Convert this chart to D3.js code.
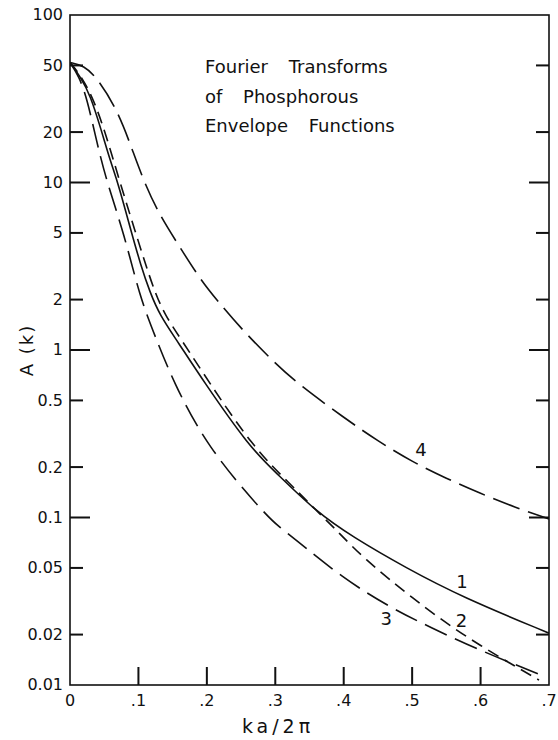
<!DOCTYPE html>
<html>
<head>
<meta charset="utf-8">
<script src="https://cdn.jsdelivr.net/npm/d3@7"></script>
<style>
  body { margin: 0; background: #fff; }
  svg text { font-family: "DejaVu Sans", sans-serif; fill: #111; }
  .line-path { fill: none; stroke: #111; stroke-width: 1.6; }
</style>
</head>
<body>
<div id="chart"></div>
<script>
// Curve 1 (solid)
const curve1K = [0, 0.015, 0.03, 0.045, 0.06, 0.07, 0.09, 0.1035, 0.1167, 0.131, 0.1575, 0.194, 0.262, 0.30, 0.36, 0.413, 0.491, 0.573, 0.7];
const curve1A = [52, 43, 33, 21, 13, 10, 5.0, 3.2, 2.22, 1.62, 1.12, 0.66, 0.264, 0.187, 0.108, 0.0766, 0.050, 0.0335, 0.0204];
// Curve 2 (short dash)
const curve2K = [0, 0.015, 0.032, 0.05, 0.073, 0.096, 0.1108, 0.124, 0.1385, 0.1648, 0.2013, 0.267, 0.3208, 0.36, 0.3938, 0.427, 0.5, 0.579, 0.6854];
const curve2A = [52, 44, 33, 21, 10, 5, 3.21, 2.22, 1.62, 1.12, 0.66, 0.264, 0.16, 0.11, 0.0807, 0.058, 0.033, 0.0191, 0.0107];
// Curve 3 (long dash)
const curve3K = [0, 0.0131, 0.0248, 0.0394, 0.054, 0.0788, 0.102, 0.1254, 0.150, 0.2, 0.2858, 0.306, 0.325, 0.398, 0.467, 0.525, 0.608, 0.688];
const curve3A = [52, 43, 31.9, 17.2, 10, 5, 2.07, 1.18, 0.66, 0.264, 0.1035, 0.0877, 0.0766, 0.0436, 0.0292, 0.0222, 0.0155, 0.0115];
// Curve 4 (long dash)
const curve4K = [0, 0.02, 0.04, 0.067, 0.086, 0.107, 0.13, 0.156, 0.19, 0.214, 0.25, 0.30, 0.335, 0.40, 0.45, 0.50, 0.55, 0.60, 0.65, 0.70];
const curve4A = [52, 50, 42, 28, 18, 10.3, 6.5, 4.4, 2.65, 2.0, 1.34, 0.83, 0.62, 0.395, 0.286, 0.215, 0.171, 0.139, 0.115, 0.098];

const curveLabels = ["1", "2", "3", "4"];
const curveLabelK = [0.573, 0.572, 0.462, 0.513];
const curveLabelA = [0.0412, 0.0244, 0.0251, 0.253];

const yTicks = [100, 50, 20, 10, 5, 2, 1, 0.5, 0.2, 0.1, 0.05, 0.02, 0.01];
const yTickLabels = ["100", "50", "20", "10", "5", "2", "1", "0.5", "0.2", "0.1", "0.05", "0.02", "0.01"];
const xTicks = [0, 0.1, 0.2, 0.3, 0.4, 0.5, 0.6, 0.7];
const xTickLabels = ["0", ".1", ".2", ".3", ".4", ".5", ".6", ".7"];
const titleLines = ["Fourier Transforms", "of Phosphorous", "Envelope Functions"];

const width = 558, height = 740
, margin = {top: 15, right: 9, bottom: 55, left: 70}
, innerWidth = width - margin.left - margin.right
, innerHeight = height - margin.top - margin.bottom
, majorTick = 20
, minorTick = 13
, xTickLen = 18
, tickW = 2;

const svg = d3.select("#chart").append("svg")
  .attr("width", width)
  .attr("height", height);

const g = svg.append("g")
  .attr("transform", `translate(${margin.left},${margin.top})`);

const xScale = d3.scaleLinear().domain([0, 0.7]).range([0, innerWidth]);
const yScale = d3.scaleLog().domain([0.01, 100]).range([innerHeight, 0]);
const isDecade = d => d === 10 || d === 1 || d === 0.1;
const tickLen = d => isDecade(d) ? majorTick : minorTick;

// Y ticks: one group per value, label left of the frame, marks inward on both sides
const yTickG = g.selectAll(".ytick")
  .data(yTicks)
  .join("g")
  .attr("class", "ytick")
  .attr("transform", d => `translate(0,${yScale(d)})`);

yTickG.append("text")
  .attr("x", -7)
  .attr("dy", "0.34em")
  .attr("text-anchor", "end")
  .style("font-size", "16px")
  .text((d, i) => yTickLabels[i]);

const yMarks = yTickG.filter(d => d !== 100 && d !== 0.01);
yMarks.append("rect")
  .attr("x", 0)
  .attr("y", -tickW / 2)
  .attr("width", d => tickLen(d))
  .attr("height", tickW)
  .attr("fill", "#111");
yMarks.append("rect")
  .attr("x", d => innerWidth - tickLen(d))
  .attr("y", -tickW / 2)
  .attr("width", d => tickLen(d))
  .attr("height", tickW)
  .attr("fill", "#111");

// X ticks
const xTickG = g.selectAll(".xtick")
  .data(xTicks)
  .join("g")
  .attr("class", "xtick")
  .attr("transform", d => `translate(${xScale(d)},${innerHeight})`);

xTickG.append("text")
  .attr("y", 21)
  .attr("text-anchor", "middle")
  .style("font-size", "16px")
  .text((d, i) => xTickLabels[i]);

xTickG.filter(d => d !== 0 && d !== 0.7)
  .append("rect")
  .attr("x", -tickW / 2)
  .attr("y", -xTickLen)
  .attr("width", tickW)
  .attr("height", xTickLen)
  .attr("fill", "#111");

// Frame
g.append("rect")
  .attr("width", innerWidth)
  .attr("height", innerHeight)
  .attr("fill", "none")
  .attr("stroke", "#111")
  .attr("stroke-width", 1.6);

// Curves
g.append("clipPath").attr("id", "plot-clip")
  .append("rect").attr("width", innerWidth).attr("height", innerHeight);

const lineGen = d3.line()
  .x(d => xScale(d[0]))
  .y(d => yScale(d[1]))
  .curve(d3.curveBasis);

const curves = [
  {k: curve1K, a: curve1A, dash: null},
  {k: curve2K, a: curve2A, dash: "12,7"},
  {k: curve3K, a: curve3A, dash: "24,9"},
  {k: curve4K, a: curve4A, dash: "28,9"}
];

curves.forEach(c => {
  g.append("path")
    .attr("class", "line-path")
    .attr("clip-path", "url(#plot-clip)")
    .attr("stroke-dasharray", c.dash)
    .attr("d", lineGen(d3.zip(c.k, c.a)));
});

// Curve numbers
g.selectAll(".curve-label")
  .data(curveLabels)
  .join("text")
  .attr("class", "curve-label")
  .attr("x", (d, i) => xScale(curveLabelK[i]))
  .attr("y", (d, i) => yScale(curveLabelA[i]))
  .attr("dy", "0.36em")
  .attr("text-anchor", "middle")
  .style("font-size", "18px")
  .text(d => d);

// Title
g.append("text")
  .attr("x", 135)
  .attr("y", 58)
  .style("font-size", "18px")
  .style("word-spacing", "15px")
  .selectAll("tspan")
  .data(titleLines)
  .join("tspan")
  .attr("x", 135)
  .attr("dy", (d, i) => i === 0 ? 0 : 29.5)
  .text(d => d);

// Axis labels
svg.append("text")
  .attr("transform", `translate(27,${margin.top + innerHeight / 2}) rotate(-90)`)
  .attr("text-anchor", "middle")
  .attr("dy", "0.36em")
  .style("font-size", "18px")
  .style("letter-spacing", "2px")
  .text("A (k)");

svg.append("text")
  .attr("x", 278)
  .attr("y", 733)
  .attr("text-anchor", "middle")
  .style("font-size", "19px")
  .style("letter-spacing", "4px")
  .text("ka/2π");
</script>
</body>
</html>
